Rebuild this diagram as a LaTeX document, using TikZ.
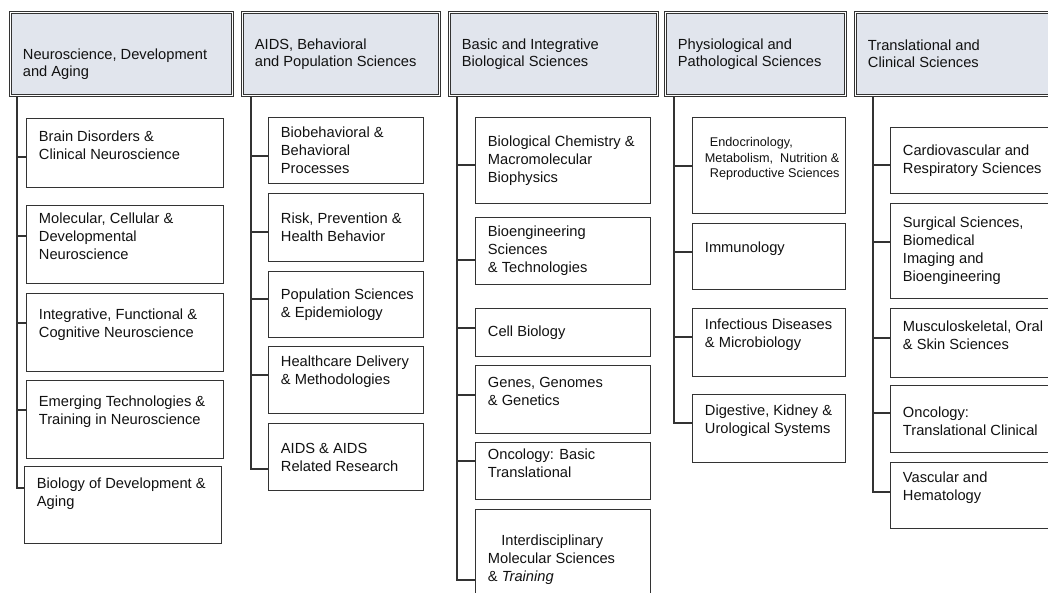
\documentclass[tikz,border=0pt]{standalone}
\usepackage{fontspec}
\setmainfont{Liberation Sans}
\usetikzlibrary{positioning}
\definecolor{nihedge}{HTML}{333333}
\definecolor{nihhead}{HTML}{E1E5ED}
\definecolor{nihtext}{HTML}{111111}
\newlength{\pxl}\setlength{\pxl}{0.75pt}

\begin{document}
\begin{tikzpicture}[x=0.75pt,y=-0.75pt,
  head/.style={draw=nihedge,line width=0.8pt,double=white,double distance=1.2pt,fill=nihhead,anchor=north west,minimum height=83\pxl,inner sep=0pt},
  htxt/.style={anchor=west,xshift=9.5pt,align=left,inner sep=0pt,text=nihtext,font=\fontsize{11}{12.75}\selectfont},
  leaf/.style={draw=nihedge,line width=0.8pt,anchor=north west,inner sep=0pt},
  ltxt/.style={anchor=west,xshift=9.5pt,align=left,inner sep=0pt,text=nihtext,font=\fontsize{11}{13.5}\selectfont},
  lup/.style={ltxt,yshift=6pt},
  wire/.style={draw=nihedge,line width=0.8pt},
  c1/.style={leaf,minimum width=197\pxl},
  c2/.style={leaf,minimum width=155\pxl},
  c3/.style={leaf,minimum width=175\pxl},
  c4/.style={leaf,minimum width=153\pxl},
  c5/.style={leaf,minimum width=175\pxl}
]
\useasboundingbox (0,0) rectangle (1048,592);
\clip (0,0) rectangle (1048,592);

% review groups
\node[head,minimum width=222\pxl,label={[htxt,yshift=-7.5pt]west:{Neuroscience, Development\\and Aging}}] (h1) at (10,12) {};
\node[head,minimum width=197\pxl,label={[htxt]west:{AIDS, Behavioral\\and Population Sciences}}] (h2) at (242,12) {};
\node[head,minimum width=208\pxl,label={[htxt]west:{Basic and Integrative\\Biological Sciences}}] (h3) at (449,12) {};
\node[head,minimum width=180\pxl,label={[htxt]west:{Physiological and\\Pathological Sciences}}] (h4) at (665,12) {};
\node[head,minimum width=215\pxl,label={[htxt]west:{Translational and\\Clinical Sciences}}] (h5) at (855,12) {};

\coordinate (r1) at (h1.south -| 17,0);
\coordinate (r2) at (h2.south -| 251,0);
\coordinate (r3) at (h3.south -| 457,0);
\coordinate (r4) at (h4.south -| 674,0);
\coordinate (r5) at (h5.south -| 873,0);

% Neuroscience, Development and Aging
\node[c1,minimum height=69\pxl,label={[lup]west:{Brain Disorders \&\\Clinical Neuroscience}}] (n11) at (26,118) {};
\node[c1,minimum height=78\pxl,label={[lup]west:{Molecular, Cellular \&\\Developmental\\Neuroscience}}] (n12) at (26,205) {};
\node[c1,minimum height=78\pxl,label={[lup]west:{Integrative, Functional \&\\Cognitive Neuroscience}}] (n13) at (26,293) {};
\node[c1,minimum height=78\pxl,label={[lup]west:{Emerging Technologies \&\\Training in Neuroscience}}] (n14) at (26,380) {};
\node[c1,minimum height=77\pxl,label={[ltxt,yshift=8.5pt]west:{Biology of Development \&\\Aging}}] (n15) at (24,466) {};

% AIDS, Behavioral and Population Sciences
\node[c2,minimum height=66\pxl,label={[ltxt]west:{Biobehavioral \&\\Behavioral\\Processes}}] (n21) at (268,117) {};
\node[c2,minimum height=68\pxl,label={[ltxt]west:{Risk, Prevention \&\\Health Behavior}}] (n22) at (268,193) {};
\node[c2,minimum height=66\pxl,label={[ltxt]west:{Population Sciences\\\& Epidemiology}}] (n23) at (268,271) {};
\node[c2,minimum height=67\pxl,label={[lup]west:{Healthcare Delivery\\\& Methodologies}}] (n24) at (268,346) {};
\node[c2,minimum height=67\pxl,label={[ltxt]west:{AIDS \& AIDS\\Related Research}}] (n25) at (268,423) {};

% Basic and Integrative Biological Sciences
\node[c3,minimum height=86\pxl,label={[ltxt]west:{Biological Chemistry \&\\Macromolecular\\Biophysics}}] (n31) at (475,117) {};
\node[c3,minimum height=67\pxl,label={[ltxt]west:{Bioengineering\\Sciences\\\& Technologies}}] (n32) at (475,217) {};
\node[c3,minimum height=48\pxl,label={[ltxt]west:{Cell Biology}}] (n33) at (475,308) {};
\node[c3,minimum height=68\pxl,label={[lup]west:{Genes, Genomes\\\& Genetics}}] (n34) at (475,365) {};
\node[c3,minimum height=57\pxl,label={[lup]west:{Oncology: Basic\\Translational}}] (n35) at (475,442) {};
\node[c3,minimum height=100\pxl,label={[ltxt]west:{\hspace*{10pt}Interdisciplinary\\Molecular Sciences\\\& \textit{Training}}}] (n36) at (475,509) {};

% Physiological and Pathological Sciences
\node[c4,minimum height=96\pxl,label={[ltxt,yshift=5pt,font=\fontsize{9.5}{11.5}\selectfont]west:{\hspace*{3.75pt}Endocrinology,\\Metabolism,\ \ Nutrition \&\\\hspace*{3.75pt}Reproductive Sciences}}] (n41) at (692,117) {};
\node[c4,minimum height=66\pxl,label={[lup]west:{Immunology}}] (n42) at (692,223) {};
\node[c4,minimum height=68\pxl,label={[lup]west:{Infectious Diseases\\\& Microbiology}}] (n43) at (692,308) {};
\node[c4,minimum height=68\pxl,label={[lup]west:{Digestive, Kidney \&\\Urological Systems}}] (n44) at (692,394) {};

% Translational and Clinical Sciences
\node[c5,minimum height=66\pxl,label={[ltxt]west:{Cardiovascular and\\Respiratory Sciences}}] (n51) at (890,127) {};
\node[c5,minimum height=95\pxl,label={[ltxt]west:{Surgical Sciences,\\Biomedical\\Imaging and\\Bioengineering}}] (n52) at (890,203) {};
\node[c5,minimum height=69\pxl,label={[lup]west:{Musculoskeletal, Oral\\\& Skin Sciences}}] (n53) at (890,308) {};
\node[c5,minimum height=67\pxl,label={[ltxt,yshift=-2pt]west:{Oncology:\\Translational Clinical}}] (n54) at (890,385) {};
\node[c5,minimum height=66\pxl,label={[lup]west:{Vascular and\\Hematology}}] (n55) at (890,462) {};

% trunks and ticks
\foreach \n/\y in {n11/157,n12/236,n13/323,n14/410}
  \draw[wire] (r1 |- 0,\y) -- (\n.west |- 0,\y);
\draw[wire] (r1) |- (n15.west |- 0,488);
\foreach \n/\y in {n21/156,n22/232,n23/299,n24/375}
  \draw[wire] (r2 |- 0,\y) -- (\n.west |- 0,\y);
\draw[wire] (r2) |- (n25.west |- 0,469);
\foreach \n/\y in {n31/165,n32/260,n33/328,n34/395,n35/461}
  \draw[wire] (r3 |- 0,\y) -- (\n.west |- 0,\y);
\draw[wire] (r3) |- (n36.west |- 0,580);
\foreach \n/\y in {n41/166,n42/252,n43/337}
  \draw[wire] (r4 |- 0,\y) -- (\n.west |- 0,\y);
\draw[wire] (r4) |- (n44.west |- 0,423);
\foreach \n/\y in {n51/165,n52/242,n53/338,n54/413}
  \draw[wire] (r5 |- 0,\y) -- (\n.west |- 0,\y);
\draw[wire] (r5) |- (n55.west |- 0,492);
\end{tikzpicture}
\end{document}
